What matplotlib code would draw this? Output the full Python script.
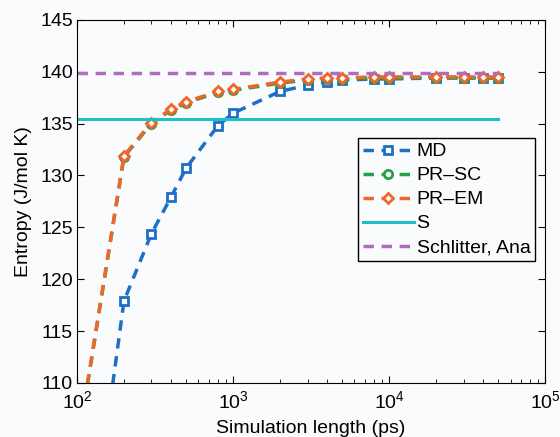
from matplotlib import pyplot as plt
import numpy as np

plt.rcParams['font.family'] = ['Liberation Sans', 'DejaVu Sans']

# simulation lengths (ps); the first point lies below the visible y range
t = [100, 200, 300, 400, 500, 800, 1000, 2000, 3000, 4000, 5000,
     8000, 10000, 20000, 30000, 40000, 50000]

md = [84.5, 117.9, 124.4, 127.9, 130.7, 134.8, 136.0, 138.1, 138.7,
      139.0, 139.2, 139.3, 139.3, 139.4, 139.4, 139.4, 139.4]
pr_sc = [103.5, 131.8, 135.0, 136.3, 137.0, 138.0, 138.2, 138.9, 139.2,
         139.3, 139.3, 139.4, 139.4, 139.4, 139.4, 139.4, 139.4]
pr_em = [103.7, 131.9, 135.1, 136.4, 137.1, 138.1, 138.3, 139.0, 139.3,
         139.4, 139.4, 139.5, 139.5, 139.5, 139.5, 139.5, 139.5]

s_val = 135.4
schlitter_val = 139.85
ref_x = [100, 50000]

c_md = '#1f6fc4'
c_sc = '#23a04a'
c_em = '#f0662a'
c_s = '#1dc0c4'
c_sch = '#b06cc0'
bg = '#fafbfd'

fig = plt.figure(figsize=(5.6, 4.37), dpi=100, facecolor=bg)
ax = fig.add_axes([0.1375, 0.1236, 0.836, 0.831])
ax.set_facecolor(bg)

dash = (3, 2.2)
ax.plot(t, md, '--', color=c_md, lw=2.5, dashes=dash, marker='s', ms=5.5,
        mfc='white', mec=c_md, mew=2, label='MD')
ax.plot(t, pr_sc, '--', color=c_sc, lw=2.5, dashes=dash, marker='o', ms=6,
        mfc='white', mec=c_sc, mew=2, label='PR\u2013SC')
ax.plot(t, pr_em, '--', color=c_em, lw=2.5, dashes=dash, marker='D', ms=5.5,
        mfc='white', mec=c_em, mew=2, label='PR\u2013EM')
ax.plot(ref_x, [s_val, s_val], '-', color=c_s, lw=2.2, label='S')
ax.plot(ref_x, [schlitter_val, schlitter_val], '--', color=c_sch, lw=2.5,
        dashes=dash, label='Schlitter, Ana')

ax.set_xscale('log')
ax.set_xlim(100, 100000)
ax.set_ylim(110, 145)
ax.set_yticks(np.arange(110, 146, 5))

ax.tick_params(which='both', direction='in', top=True, right=True, labelsize=14)
ax.tick_params(which='major', length=5)
ax.tick_params(which='minor', length=3)
ax.tick_params(axis='x', pad=5)
ax.tick_params(axis='y', pad=3)

ax.set_xlabel('Simulation length (ps)', fontsize=14)
ax.xaxis.set_label_coords(0.5, -0.103)
ax.set_ylabel('Entropy (J/mol K)', fontsize=14, labelpad=6)

leg = ax.legend(loc='upper right', bbox_to_anchor=(0.979, 0.675), fontsize=14,
                handlelength=2.6, handletextpad=0.15, borderpad=0.25,
                labelspacing=0.33, fancybox=False, framealpha=1,
                facecolor=bg, edgecolor='black', borderaxespad=0)
leg.get_frame().set_linewidth(1.0)

plt.savefig('out.png', dpi=100, facecolor=bg)
